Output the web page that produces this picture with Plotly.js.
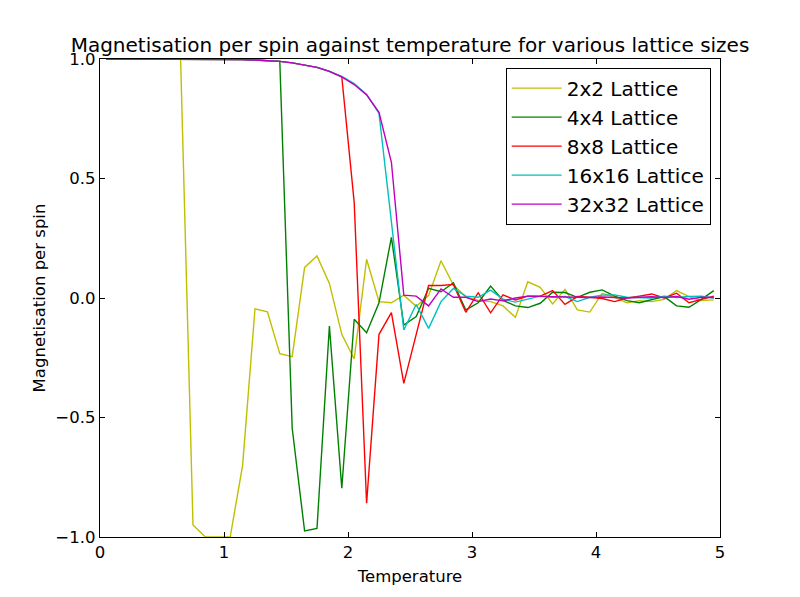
<!DOCTYPE html>
<html>
<head>
<meta charset="utf-8">
<script src="https://cdn.plot.ly/plotly-3.0.1.min.js"></script>
<style>
  body { margin: 0; background: #fff; }
  #chart { width: 800px; height: 597px; }
</style>
</head>
<body>
<div id="chart"></div>
<script>
// temperatures the simulation was run at
var temps = [0.05, 0.15, 0.25, 0.35, 0.45, 0.55, 0.65, 0.75, 0.85, 0.95,
             1.05, 1.15, 1.25, 1.35, 1.45, 1.55, 1.65, 1.75, 1.85, 1.95,
             2.05, 2.15, 2.25, 2.35, 2.45, 2.55, 2.65, 2.75, 2.85, 2.95,
             3.05, 3.15, 3.25, 3.35, 3.45, 3.55, 3.65, 3.75, 3.85, 3.95,
             4.05, 4.15, 4.25, 4.35, 4.45, 4.55, 4.65, 4.75, 4.85, 4.95];

var mag2 = [1.0, 1.0, 1.0, 1.0, 1.0, 1.0, 1.0, -0.95, -1.0, -1.0,
            -1.0, -0.70, -0.045, -0.058, -0.233, -0.245, 0.128, 0.176, 0.061, -0.152,
            -0.255, 0.162, -0.015, -0.02, 0.012, -0.035, 0.01, 0.156, 0.054, 0.005,
            -0.01, -0.015, -0.033, -0.081, 0.068, 0.045, -0.025, 0.036, -0.05, -0.059,
            0.02, 0.003, -0.02, -0.011, -0.015, -0.006, 0.031, 0.006, -0.011, -0.008];

var mag4 = [1.0, 1.0, 1.0, 1.0, 1.0, 1.0, 1.0, 1.0, 1.0, 1.0,
            0.999, 0.998, 0.996, 0.994, 0.99, -0.545, -0.975, -0.964, -0.117, -0.796,
            -0.089, -0.145, -0.02, 0.254, -0.113, -0.078, 0.04, 0.026, 0.064, -0.05,
            -0.02, 0.05, -0.01, -0.033, -0.04, -0.022, 0.024, 0.023, 0.003, 0.024,
            0.034, 0.008, -0.011, -0.02, -0.006, 0.006, -0.033, -0.039, -0.006, 0.031];

var mag8 = [1.0, 1.0, 1.0, 1.0, 1.0, 1.0, 1.0, 1.0, 1.0, 1.0,
            0.999, 0.998, 0.996, 0.994, 0.99, 0.984, 0.976, 0.965, 0.948, 0.925,
            0.40, -0.859, -0.152, -0.061, -0.357, -0.15, 0.052, 0.052, 0.057, -0.06,
            0.022, -0.062, 0.013, -0.008, 0.008, 0.008, 0.031, -0.027, 0.006, 0.003,
            -0.002, -0.015, 0.0, 0.008, 0.017, 0.0, 0.02, -0.02, -0.006, 0.008];

var mag16 = [1.0, 1.0, 1.0, 1.0, 1.0, 1.0, 1.0, 1.0, 1.0, 1.0,
             0.999, 0.998, 0.996, 0.994, 0.99, 0.984, 0.976, 0.965, 0.948, 0.927,
             0.897, 0.852, 0.772, 0.33, -0.134, -0.027, -0.127, -0.015, 0.04, 0.008,
             0.003, 0.033, -0.005, -0.017, -0.003, 0.008, 0.003, 0.006, -0.015, 0.003,
             0.012, 0.013, 0.003, 0.002, 0.0, 0.008, 0.002, 0.006, 0.008, 0.0];

var mag32 = [1.0, 1.0, 1.0, 1.0, 1.0, 1.0, 1.0, 1.0, 1.0, 1.0,
             0.999, 0.998, 0.996, 0.994, 0.99, 0.984, 0.976, 0.965, 0.948, 0.925,
             0.893, 0.85, 0.777, 0.568, 0.012, 0.008, -0.033, 0.038, 0.003, 0.003,
             -0.015, -0.004, -0.012, 0.0, 0.008, 0.006, 0.005, 0.004, 0.003, 0.002,
             0.004, 0.002, 0.0, 0.003, 0.005, 0.002, 0.006, -0.005, 0.003, 0.002];

var names = ['2x2 Lattice', '4x4 Lattice', '8x8 Lattice', '16x16 Lattice', '32x32 Lattice'];
var series = [mag2, mag4, mag8, mag16, mag32];
// matplotlib classic y, g, r, c, m
var colors = ['#bfbf00', '#008000', '#ff0000', '#00bfbf', '#bf00bf'];

var data = series.map(function (vals, i) {
    return {
        x: temps,
        y: vals,
        type: 'scatter',
        mode: 'lines',
        name: names[i],
        line: {color: colors[i], width: 1.4}
    };
});

var axisStyle = {
    showgrid: false,
    zeroline: false,
    showline: true,
    linecolor: '#000',
    linewidth: 1.3,
    mirror: 'allticks',
    ticks: 'inside',
    ticklen: 5,
    tickwidth: 1,
    tickcolor: '#000',
    tickfont: {size: 16.5, color: '#000'},
    automargin: false
};

var layout = {
    width: 800,
    height: 597,
    margin: {l: 100, r: 80, t: 59, b: 60},
    paper_bgcolor: '#fff',
    plot_bgcolor: '#fff',
    font: {family: 'DejaVu Sans', color: '#000'},
    title: {
        text: 'Magnetisation per spin against temperature for various lattice sizes',
        font: {size: 20, color: '#000'},
        x: 0.5125, xanchor: 'center',
        y: 1 - 45 / 597, yanchor: 'middle'
    },
    xaxis: Object.assign({}, axisStyle, {
        range: [0, 5],
        tickvals: [0, 1, 2, 3, 4, 5],
        title: {text: 'Temperature', font: {size: 16.5}, standoff: 9}
    }),
    yaxis: Object.assign({}, axisStyle, {
        range: [-1, 1],
        tickvals: [-1, -0.5, 0, 0.5, 1],
        tickformat: '.1f',
        title: {text: 'Magnetisation per spin', font: {size: 16.5}, standoff: 5}
    }),
    showlegend: true,
    legend: {
        x: 0.985, xanchor: 'right',
        y: 0.982, yanchor: 'top',
        bgcolor: '#fff',
        bordercolor: '#000',
        borderwidth: 1,
        font: {size: 20, color: '#000'},
        itemwidth: 50,
        tracegroupgap: 0
    }
};

Plotly.newPlot('chart', data, layout, {displayModeBar: false, staticPlot: true});
</script>
</body>
</html>
